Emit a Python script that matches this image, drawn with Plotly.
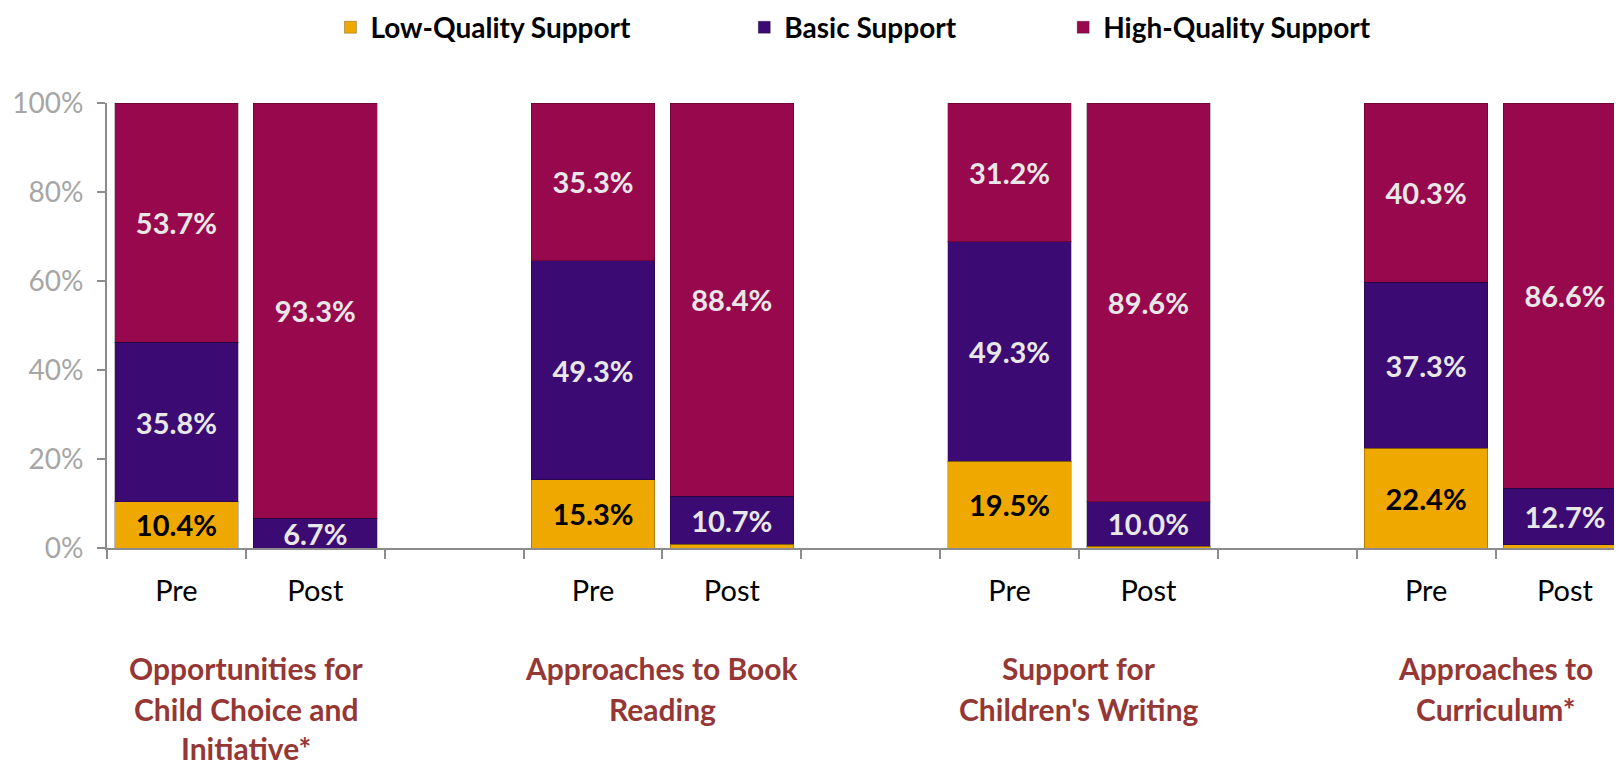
import plotly.graph_objects as go

# ---- data ----
groups = ["Opportunities for<br>Child Choice and<br>Initiative*",
          "Approaches to Book<br>Reading",
          "Support for<br>Children's Writing",
          "Approaches to<br>Curriculum*"]
phases = ["Pre", "Post"]
series_names = ["Low-Quality Support", "Basic Support", "High-Quality Support"]
low_pre = [10.4, 15.3, 19.5, 22.4]
low_post = [0.0, 0.9, 0.4, 0.7]
basic_pre = [35.8, 49.3, 49.3, 37.3]
basic_post = [6.7, 10.7, 10.0, 12.7]
high_pre = [53.7, 35.3, 31.2, 40.3]
high_post = [93.3, 88.4, 89.6, 86.6]
y_ticks = [0, 20, 40, 60, 80, 100]

# ---- styling / layout ----
OFF = 8                      # default page body margin
W, H = 1622 - OFF, 765 - OFF
ML, MR, MT = 106.5 - OFF, 0, 103.4 - OFF
AXIS_Y = 548 - OFF           # figure px of the 0% line
MB = H - AXIS_Y
PW = W - ML - MR
PH = H - MT - MB
SLOT = 138.9
colors = ["#EFA800", "#3B0A72", "#98084C"]
text_colors = ["#000000", "#E8E8E8", "#E8E8E8"]
title_color = "#953735"
FONT = "Lato"

x_pre = [g * 3 for g in range(len(groups))]
x_post = [g * 3 + 1 for g in range(len(groups))]

def interleave(a, b):
    out = []
    for p, q in zip(a, b):
        out += [p, q]
    return out

xs = interleave(x_pre, x_post)
series_vals = [interleave(low_pre, low_post),
               interleave(basic_pre, basic_post),
               interleave(high_pre, high_post)]

fig = go.Figure()
legend_ids = ["legend", "legend2", "legend3"]
for i, (name, vals) in enumerate(zip(series_names, series_vals)):
    texts = [f"{v:.1f}%" if v >= 2 else "" for v in vals]
    fig.add_trace(go.Bar(
        x=xs, y=vals, name=name, width=0.89,
        marker=dict(color=colors[i], line=dict(color="rgba(0,0,0,0.25)", width=1)),
        text=texts, textposition="inside", insidetextanchor="middle",
        textangle=0,
        textfont=dict(family=FONT, size=29, color=text_colors[i], weight="bold"),
        legend=legend_ids[i], cliponaxis=False, hoverinfo="skip",
    ))

x_max = -0.5 + PW / SLOT

def page_to_paper_x(px):
    return (px - OFF - ML) / PW

def page_to_paper_y(py):
    return (AXIS_Y - (py - OFF)) / PH

legend_sym_px = [350, 764, 1083]
leg_common = dict(orientation="h", yanchor="middle", xanchor="left",
                  font=dict(family=FONT, size=28, color="#000000", weight="bold"),
                  bgcolor="rgba(0,0,0,0)", itemclick=False, itemdoubleclick=False)
layout_legends = {}
for lid, sx in zip(legend_ids, legend_sym_px):
    layout_legends[lid] = dict(leg_common, x=page_to_paper_x(sx - 20), y=page_to_paper_y(28))

fig.update_layout(
    width=W, height=H,
    margin=dict(l=ML, r=MR, t=MT, b=MB, pad=0, autoexpand=False),
    barmode="stack",
    plot_bgcolor="white", paper_bgcolor="white",
    showlegend=True,
    uniformtext=dict(minsize=29, mode="show"),
    font=dict(family=FONT),
    xaxis=dict(range=[-0.5, x_max], tickmode="array",
               tickvals=xs, ticktext=phases * len(groups),
               ticks="outside", ticklen=1, tickcolor="rgba(0,0,0,0)",
               ticklabelstandoff=15,
               tickfont=dict(family=FONT, size=29, color="#000000"),
               showline=True, linecolor="#8C8C8C", linewidth=2,
               showgrid=False, zeroline=False, fixedrange=True),
    xaxis2=dict(range=[-0.5, x_max], overlaying="x", anchor="y", side="bottom",
                tickmode="array",
                tickvals=[b - 0.5 for b in range(0, 13)],
                ticks="outside", ticklen=10, tickwidth=2, tickcolor="#8C8C8C",
                showticklabels=False, showline=False, showgrid=False,
                zeroline=False),
    yaxis=dict(range=[0, 100], tickmode="array", tickvals=y_ticks,
               ticktext=[f"{t}%" for t in y_ticks],
               ticks="outside", ticklen=8, tickwidth=2, tickcolor="#8C8C8C",
               ticklabelstandoff=8,
               tickfont=dict(family=FONT, size=28, color="#A6A6A6"),
               showline=True, linecolor="#8C8C8C", linewidth=2,
               showgrid=False, zeroline=False),
    **layout_legends,
)

# group titles under each Pre/Post pair
line_px = [668, 709, 748]
for g, title in enumerate(groups):
    for li, line in enumerate(title.split("<br>")):
        fig.add_annotation(
            x=g * 3 + 0.5, xref="x", y=page_to_paper_y(line_px[li]), yref="paper",
            text=line, showarrow=False, xanchor="center", yanchor="middle",
            font=dict(family=FONT, size=30, color=title_color, weight="bold"),
        )

# invisible trace so the boundary-tick overlay axis renders
fig.add_trace(go.Scatter(x=[-0.5], y=[0], xaxis="x2", mode="markers",
                         marker=dict(opacity=0), showlegend=False, hoverinfo="skip"))

fig.write_html("out.html")
